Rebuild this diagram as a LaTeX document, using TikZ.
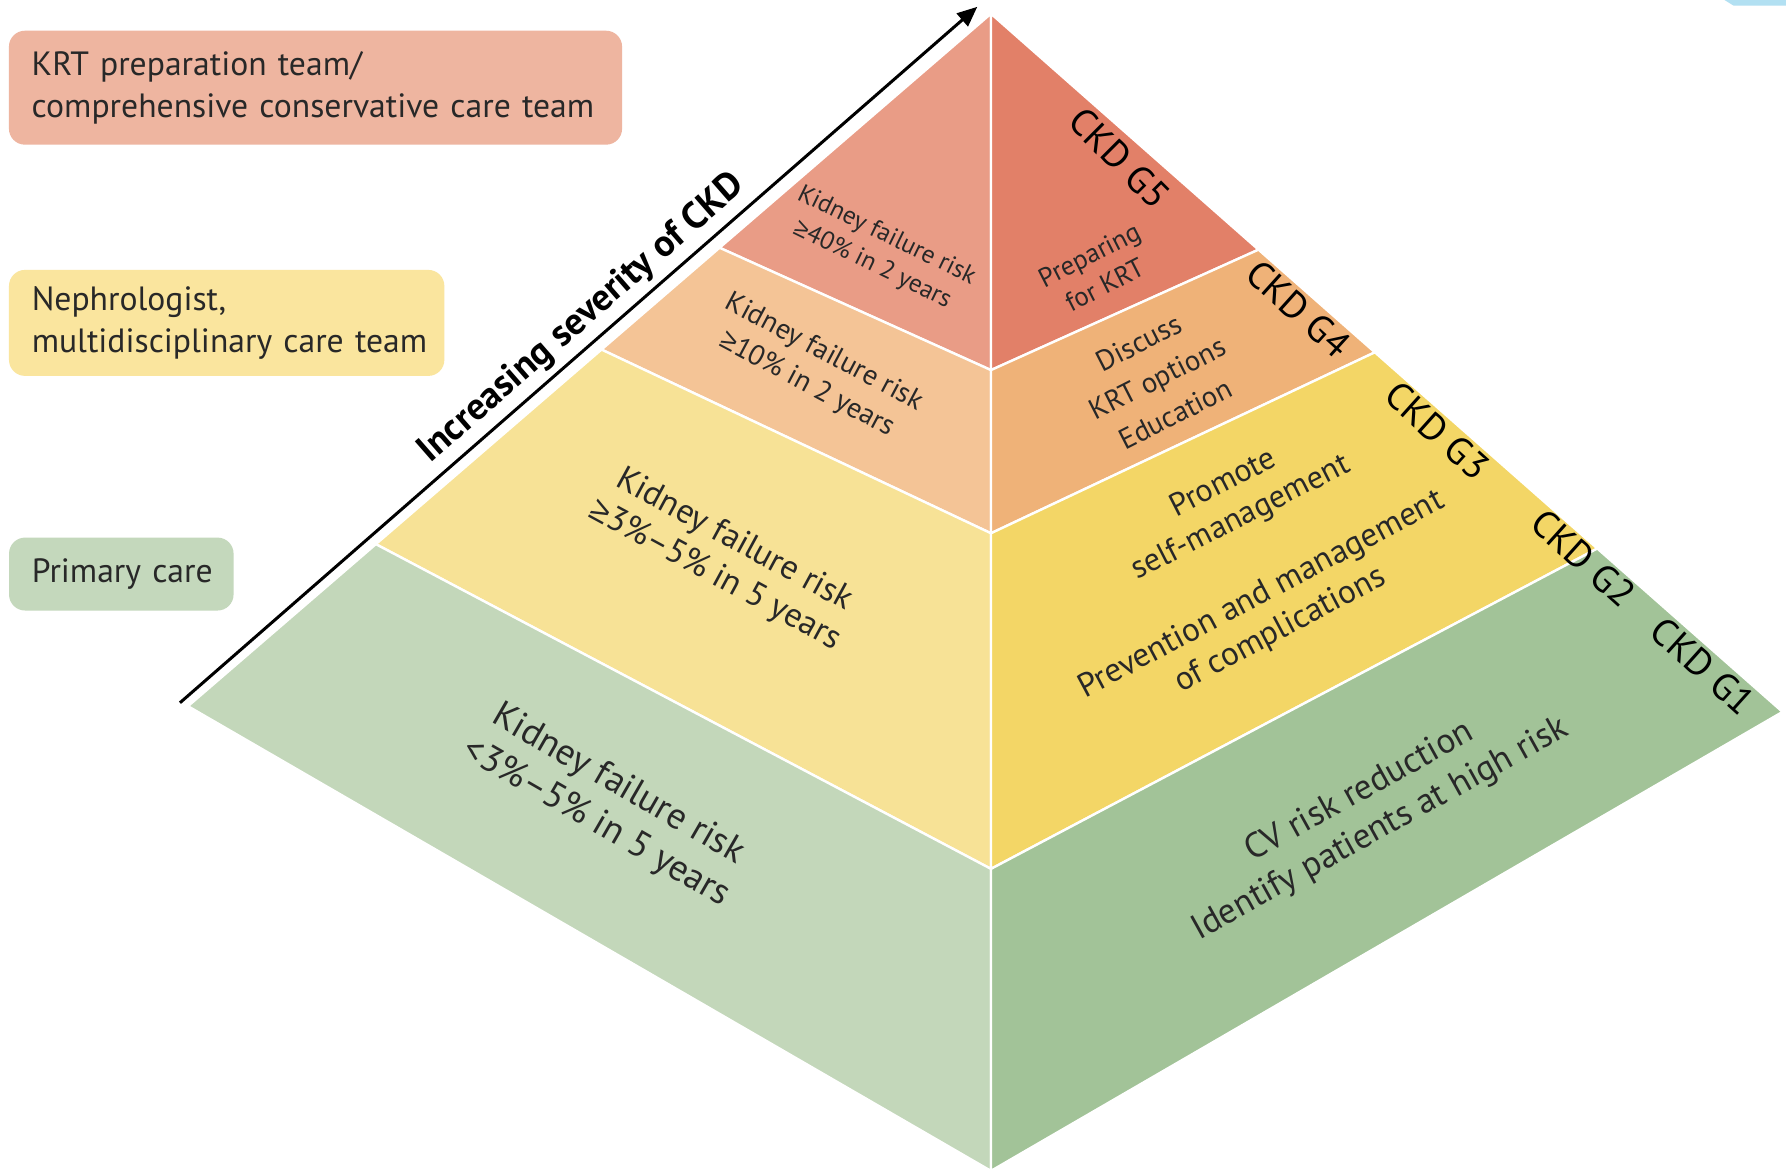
\documentclass[tikz,border=0pt]{standalone}
\usepackage{fontspec}
\setmainfont{PT Sans}
\newfontfamily\symfont{Liberation Sans}
\usetikzlibrary{calc,arrows.meta}
\newcommand{\geqsym}{{\symfont ≥}}
\definecolor{krtbox}{RGB}{238,181,160}
\definecolor{nephbox}{RGB}{250,229,158}
\definecolor{pcbox}{RGB}{196,216,188}
\definecolor{redL}{RGB}{233,156,134}
\definecolor{redR}{RGB}{226,128,104}
\definecolor{oraL}{RGB}{244,196,150}
\definecolor{oraR}{RGB}{239,178,120}
\definecolor{yelL}{RGB}{247,226,150}
\definecolor{yelR}{RGB}{243,214,102}
\definecolor{grnL}{RGB}{195,215,186}
\definecolor{grnR}{RGB}{162,195,152}
\definecolor{txt}{RGB}{40,40,40}
\definecolor{artblue}{RGB}{178,224,242}

\begin{document}
\begin{tikzpicture}[x=0.01cm,y=-0.01cm,
    band/.style={draw=white,line width=0.6pt,line join=round},
    teambox/.style={rounded corners=4pt,align=left,inner xsep=0.2cm,inner ysep=0pt,
        text=txt,font=\fontsize{8.4}{10.6}\selectfont},
    risk/.style={align=center,inner sep=0pt,text=txt},
    stage/.style={inner sep=0pt,text=black,rotate=-42,font=\fontsize{9.5}{11}\selectfont}]
    \useasboundingbox (0,0) rectangle (1568,1031);
    \fill[white] (0,0) rectangle (1568,1031);
    \fill[artblue] (1514,0) -- (1568,0) -- (1568,5) -- (1522,5) -- cycle;

    \coordinate (apex) at (870,12);
    \coordinate (lc) at (165,620);
    \coordinate (bc) at (870,1028);
    \coordinate (rc) at (1565,625);
    \foreach \n/\f/\g in {1/0.338/0.308, 2/0.485/0.449, 3/0.766/0.739} {
        \coordinate (l\n) at ($(apex)!\f!(lc)$);
        \coordinate (r\n) at ($(apex)!\f!(rc)$);
        \coordinate (m\n) at ($(apex)!\g!(bc)$);
    }

    \filldraw[band,fill=redL] (apex) -- (l1) -- (m1) -- cycle;
    \filldraw[band,fill=oraL] (l1) -- (l2) -- (m2) -- (m1) -- cycle;
    \filldraw[band,fill=yelL] (l2) -- (l3) -- (m3) -- (m2) -- cycle;
    \filldraw[band,fill=grnL] (l3) -- (lc) -- (bc) -- (m3) -- cycle;
    \filldraw[band,fill=redR] (apex) -- (r1) -- (m1) -- cycle;
    \filldraw[band,fill=oraR] (r1) -- (r2) -- (m2) -- (m1) -- cycle;
    \filldraw[band,fill=yelR] (r2) -- (r3) -- (m3) -- (m2) -- cycle;
    \filldraw[band,fill=grnR] (r3) -- (rc) -- (bc) -- (m3) -- cycle;

    \node[teambox,fill=krtbox,minimum width=5.38cm,minimum height=1cm,text width=4.98cm]
        (krt) at (277,77) {KRT preparation team/\\\mbox{comprehensive conservative care team}};
    \node[teambox,fill=nephbox,minimum width=3.82cm,minimum height=0.93cm,text width=3.42cm]
        (neph) at (199,283.5) {Nephrologist,\\\mbox{multidisciplinary care team}};
    \node[teambox,fill=pcbox,minimum width=1.97cm,minimum height=0.64cm,text width=1.57cm]
        (pc) at (106.5,504) {\mbox{Primary care}};

    \coordinate (sevlo) at (158,617);
    \coordinate (sevhi) at (858,6);
    \draw[line width=0.75pt,-{Triangle[length=5pt,width=4.2pt]}] (sevlo) -- (sevhi)
        node[pos=0.525,sloped,above=1.5pt,inner sep=0pt,text=black,
            font=\bfseries\fontsize{9.4}{11}\selectfont] (sev) {Increasing severity of CKD};

    \node[risk,rotate=-26,font=\fontsize{6.3}{8}\selectfont] (k5) at (772,220)
        {Kidney failure risk\\\geqsym40\% in 2 years};
    \node[risk,rotate=-28,font=\fontsize{7.1}{9}\selectfont] (k4) at (716,324)
        {Kidney failure risk\\\geqsym10\% in 2 years};
    \node[risk,rotate=-28.5,font=\fontsize{8.5}{10}\selectfont] (k3) at (636,490)
        {Kidney failure risk\\\geqsym3\%–5\% in 5 years};
    \node[risk,rotate=-30,font=\fontsize{9.2}{11}\selectfont] (k1) at (533,706)
        {Kidney failure risk\\<3\%–5\% in 5 years};

    \node[risk,rotate=27,font=\fontsize{6.7}{8.4}\selectfont] (a5) at (963,237)
        {Preparing\\for KRT};
    \node[risk,rotate=27,font=\fontsize{7.2}{10}\selectfont] (a4) at (1016,332)
        {Discuss\\KRT options\\Education};
    \node[risk,rotate=27,font=\fontsize{8}{9.6}\selectfont] (a3) at (1082,440)
        {Promote\\self-management};
    \node[risk,rotate=28,font=\fontsize{8.3}{10}\selectfont] (a2) at (1116,538)
        {Prevention and management\\of complications};
    \node[risk,rotate=29,font=\fontsize{8.8}{10.6}\selectfont] (a1) at (1203,712)
        {CV risk reduction\\Identify patients at high risk};

    \node[stage,rotate=-3] (g5) at (983,139) {CKD G5};
    \node[stage] (g4) at (1140,271) {CKD G4};
    \node[stage] (g3) at (1262,378) {CKD G3};
    \node[stage] (g2) at (1390,490) {CKD G2};
    \node[stage] (g1) at (1495,585) {CKD G1};
\end{tikzpicture}
\end{document}
